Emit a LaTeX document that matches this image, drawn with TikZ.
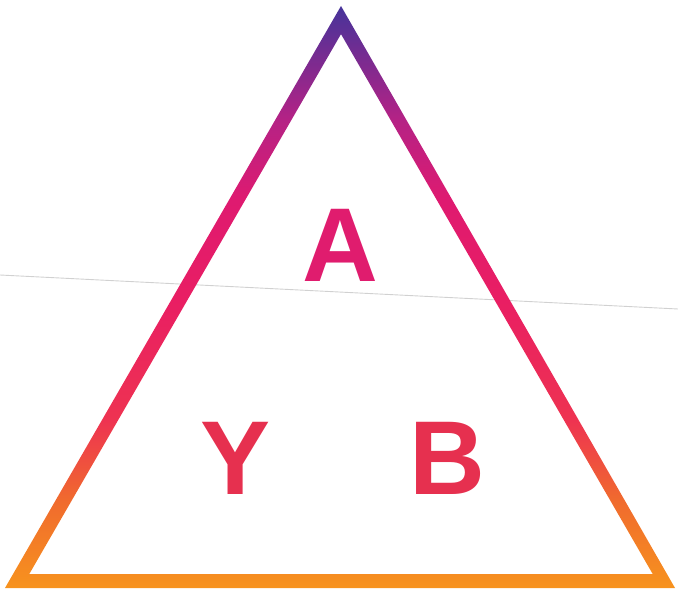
\documentclass[tikz,border=0pt]{standalone}
\usepackage{fontspec}
\setmainfont{Liberation Sans}
\usepackage{tikz}

\definecolor{triorange}{HTML}{F7931E}
\definecolor{trired}{HTML}{F06A2E}
\definecolor{tripink}{HTML}{EE3351}
\definecolor{trimagenta}{HTML}{E91E63}
\definecolor{trideep}{HTML}{DF1A70}
\definecolor{triviolet}{HTML}{B52285}
\definecolor{tripurple}{HTML}{46339A}
\definecolor{letterA}{HTML}{E01C6E}
\definecolor{letterYB}{HTML}{E6304F}

\pgfdeclareverticalshading{trishade}{100bp}{color(0bp)=(triorange); color(25bp)=(triorange);
  color(32.6bp)=(trired); color(39.4bp)=(tripink); color(49.7bp)=(trimagenta);
  color(58.3bp)=(trideep); color(65.2bp)=(triviolet); color(75bp)=(tripurple); color(100bp)=(tripurple)}

\tikzset{
  letter/.style={font=\fontsize{105}{105}\selectfont\bfseries, inner sep=0pt, anchor=center}
}

\begin{document}
\begin{tikzpicture}[x=1pt, y=-1pt]
\useasboundingbox (0,0) rectangle (678,596);

% thin guide line behind the triangle
\draw[black!18, line width=0.9pt] (0,275) -- (678,309);

% triangle outline with colour gradient
\shade[shading=trishade, even odd rule]
  (341,6) -- (5,588) -- (675,588) -- cycle
  (341,34.1) -- (29.3,574) -- (652.7,574) -- cycle;

\node[letter, text=letterA] (a) at (340,245) {A};
\node[letter, text=letterYB] (y) at (236,458) {Y};
\node[letter, text=letterYB] (b) at (447,458) {B};
\end{tikzpicture}
\end{document}
